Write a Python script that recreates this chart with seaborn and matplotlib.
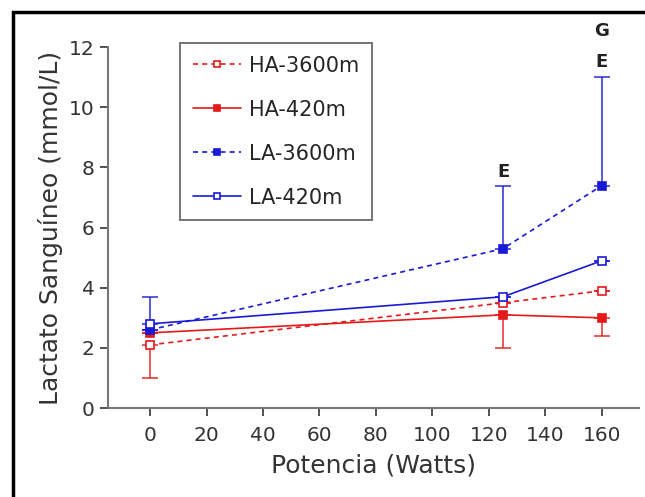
import numpy as np
import pandas as pd
import seaborn as sns
import matplotlib.pyplot as plt
from matplotlib.patches import Rectangle

sns.set_style('ticks')
plt.rcParams['font.family'] = ['DejaVu Sans']

# values
watts = [0, 125, 160]
ha_3600 = [2.1, 3.5, 3.9]
ha_420 = [2.5, 3.1, 3.0]
la_3600 = [2.6, 5.3, 7.4]
la_420 = [2.8, 3.7, 4.9]

# one sided error bars (lower, upper)
ha_3600_err = [[1.1, 0, 0], [0, 0, 0]]
ha_420_err = [[0, 1.1, 0.6], [0, 0, 0]]
la_3600_err = [[0, 0, 0], [0, 2.1, 3.6]]
la_420_err = [[0, 0, 0], [0.9, 0, 0]]

red = '#e41a1a'
blue = '#1a1ad6'

series = [
    ('HA-3600m', ha_3600, ha_3600_err, red, (0, (3, 2.5)), 'white'),
    ('HA-420m', ha_420, ha_420_err, red, '-', red),
    ('LA-3600m', la_3600, la_3600_err, blue, (0, (3, 2.5)), blue),
    ('LA-420m', la_420, la_420_err, blue, '-', 'white'),
]

fig = plt.figure(figsize=(6.45, 4.97), dpi=100)
ax = fig.add_axes([0.167, 0.179, 0.823, 0.726])

for name, vals, err, col, ls, face in series:
    df = pd.DataFrame({'w': watts, 'lac': vals})
    ax.errorbar(watts, vals, yerr=err, fmt='none', ecolor=col, elinewidth=1.2,
                capsize=6, capthick=1.2, alpha=0.85, zorder=2)
    sns.lineplot(data=df, x='w', y='lac', ax=ax, color=col, linestyle=ls,
                 linewidth=1.2, marker='s', markersize=5.5, markerfacecolor=face,
                 markeredgecolor=col, markeredgewidth=1.2, label=name, zorder=3)

# significance letters
ax.text(125, 7.55, 'E', ha='center', va='bottom', fontsize=13, fontweight='bold', color='#222222')
ax.text(160, 11.2, 'E', ha='center', va='bottom', fontsize=13, fontweight='bold', color='#222222')
ax.text(160, 12.25, 'G', ha='center', va='bottom', fontsize=13, fontweight='bold', color='#222222',
        clip_on=False)

ax.set_xlim(-15, 173)
ax.set_ylim(0, 12)
ax.set_xticks([0, 20, 40, 60, 80, 100, 120, 140, 160])
ax.set_yticks([0, 2, 4, 6, 8, 10, 12])
ax.tick_params(colors='#333333', labelsize=14.5, length=6, width=1.2, direction='out')
ax.tick_params(axis='x', pad=7)
for s in ['left', 'bottom']:
    ax.spines[s].set_color('#777777')
    ax.spines[s].set_linewidth(1.5)
sns.despine(ax=ax)
ax.set_xlabel('Potencia (Watts)', fontsize=18, color='#333333', labelpad=6)
ax.set_ylabel('Lactato Sanguíneo (mmol/L)', fontsize=18, color='#333333', labelpad=4)

leg = ax.legend(loc='upper left', bbox_to_anchor=(0.137, 1.011), borderaxespad=0, fontsize=15,
                frameon=True, fancybox=False, edgecolor='#444444', handlelength=2.3,
                labelspacing=1.15, borderpad=0.6, handletextpad=0.4, markerscale=0.9)
leg.get_frame().set_linewidth(1.3)

# outer frame of the picture
fig.patches.append(Rectangle((13 / 645, -0.05), 1.1, 1 - 12 / 497 + 0.05, transform=fig.transFigure,
                             fill=False, edgecolor='black', linewidth=2.5))

fig.savefig('out.png', dpi=100)
